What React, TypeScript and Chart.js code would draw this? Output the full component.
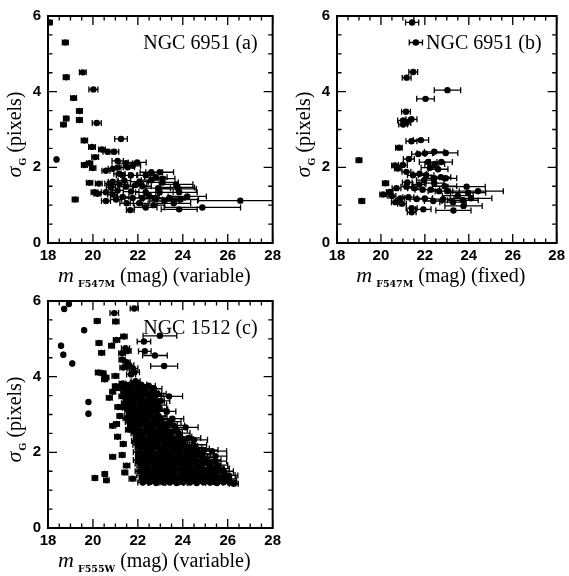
import React, { useEffect, useRef } from "react";
import { Chart, registerables } from "chart.js";
Chart.register(...registerables);

type Pt = [number, number, number]; // [magnitude, sigma_G, magnitude error]

const X_TICKS = [18, 20, 22, 24, 26, 28];
const Y_TICKS = [0, 2, 4, 6];
const X_MINOR = 0.5;
const Y_MINOR = 0.5;

const LABEL_A = "NGC 6951 (a)";
const LABEL_B = "NGC 6951 (b)";
const LABEL_C = "NGC 1512 (c)";

const pointsA: Pt[] = [
  [18.07, 5.83, 0.12], [18.77, 5.3, 0.13], [18.81, 4.38, 0.13], [19.55, 4.51, 0.15],
  [19.14, 3.83, 0.13], [19.4, 3.49, 0.13], [19.4, 3.25, 0.13], [18.81, 3.29, 0.12],
  [18.69, 3.13, 0.12], [20.02, 4.06, 0.2], [20.17, 3.17, 0.2], [18.38, 2.21, 0.03],
  [19.21, 1.15, 0.13], [19.62, 2.71, 0.14], [21.25, 2.75, 0.28], [19.96, 2.54, 0.15],
  [20.4, 2.47, 0.15], [20.65, 2.41, 0.2], [20.95, 2.41, 0.2], [20.1, 2.27, 0.15],
  [19.85, 2.11, 0.14], [19.62, 2.06, 0.13], [19.99, 1.98, 0.14], [21.1, 2.17, 0.25],
  [21.47, 2.11, 0.3], [21.97, 2.13, 0.4], [21.77, 2.04, 0.35], [21.55, 2.0, 0.3],
  [21.1, 2.0, 0.25], [20.88, 1.96, 0.2], [20.58, 1.91, 0.18], [22.97, 1.87, 0.62],
  [22.6, 1.87, 0.5], [21.18, 1.83, 0.25], [21.32, 1.79, 0.28], [21.69, 1.79, 0.3],
  [22.35, 1.79, 0.4], [22.8, 1.74, 0.5], [23.1, 1.7, 0.55], [22.6, 1.66, 0.45],
  [22.07, 1.62, 0.4], [20.88, 1.62, 0.2], [19.85, 1.59, 0.14], [20.26, 1.57, 0.15],
  [20.73, 1.57, 0.2], [21.18, 1.55, 0.25], [21.9, 1.53, 0.35], [23.7, 1.55, 0.75],
  [23.77, 1.47, 0.75], [21.47, 1.49, 0.3], [22.97, 1.34, 0.6], [23.84, 1.34, 0.8],
  [22.35, 1.34, 0.45], [21.7, 1.36, 0.35], [21.1, 1.39, 0.25], [20.58, 1.34, 0.2],
  [20.07, 1.34, 0.15], [20.2, 1.3, 0.15], [20.88, 1.28, 0.22], [21.32, 1.22, 0.28],
  [21.77, 1.19, 0.35], [22.2, 1.19, 0.45], [22.8, 1.17, 0.55], [23.4, 1.19, 0.7],
  [24.2, 1.23, 0.85], [26.56, 1.12, 1.9], [24.87, 0.94, 1.7], [23.84, 0.89, 0.8],
  [22.35, 0.94, 0.5], [21.66, 0.87, 0.17], [22.06, 1.05, 0.4], [21.03, 1.15, 0.25],
  [20.58, 1.11, 0.2], [23.18, 1.11, 0.65], [23.9, 1.15, 0.8], [23.6, 1.05, 0.75],
  [23.8, 1.43, 0.8], [22.5, 1.25, 0.45], [22.9, 1.45, 0.55], [21.5, 1.05, 0.3],
  [22.7, 1.0, 0.5], [20.8, 1.47, 0.2], [21.4, 1.65, 0.28], [22.2, 1.5, 0.4],
  [23.1, 1.6, 0.7],
];

const pointsB: Pt[] = [
  [21.42, 5.83, 0.3], [21.59, 5.3, 0.3], [21.47, 4.52, 0.2], [21.17, 4.37, 0.2],
  [23.03, 4.04, 0.6], [22.03, 3.81, 0.4], [21.14, 3.47, 0.2], [21.01, 3.24, 0.25],
  [21.39, 3.27, 0.25], [21.01, 3.13, 0.2], [21.16, 3.17, 0.2], [21.39, 2.69, 0.25],
  [21.82, 2.72, 0.35], [20.82, 2.52, 0.15], [21.7, 2.35, 0.3], [22.0, 2.37, 0.35],
  [22.43, 2.41, 0.45], [22.95, 2.38, 0.55], [21.27, 2.22, 0.25], [20.64, 2.05, 0.15],
  [21.0, 2.06, 0.2], [20.77, 1.97, 0.15], [22.15, 2.14, 0.4], [22.45, 2.09, 0.45],
  [22.75, 2.14, 0.5], [22.23, 1.99, 0.4], [22.6, 1.95, 0.45], [21.16, 1.88, 0.2],
  [21.46, 1.79, 0.25], [21.76, 1.83, 0.3], [22.06, 1.79, 0.35], [22.43, 1.71, 0.4],
  [22.73, 1.74, 0.45], [22.95, 1.71, 0.5], [22.43, 1.58, 0.45], [21.97, 1.66, 0.35],
  [20.21, 1.58, 0.14], [20.71, 1.45, 0.2], [21.16, 1.49, 0.25], [21.52, 1.45, 0.3],
  [21.9, 1.41, 0.35], [22.27, 1.41, 0.4], [22.65, 1.37, 0.5], [23.02, 1.37, 0.55],
  [23.9, 1.49, 0.85], [24.42, 1.37, 1.15], [23.97, 1.33, 0.8], [20.1, 1.28, 0.15],
  [20.5, 1.24, 0.18], [20.88, 1.18, 0.2], [21.25, 1.21, 0.25], [21.63, 1.16, 0.3],
  [22.0, 1.18, 0.35], [22.38, 1.11, 0.4], [22.83, 1.16, 0.5], [23.28, 1.08, 0.6],
  [23.73, 1.13, 0.7], [24.1, 1.18, 0.95], [23.76, 0.98, 0.85], [21.4, 0.92, 0.25],
  [21.93, 0.89, 0.35], [21.4, 0.81, 0.2], [23.3, 0.86, 0.8], [20.66, 1.08, 0.18],
  [20.96, 1.04, 0.2], [19.0, 2.19, 0.13], [19.13, 1.11, 0.13], [20.4, 1.35, 0.15],
  [21.2, 1.6, 0.22], [21.75, 1.55, 0.3], [22.9, 1.5, 0.55], [23.5, 1.25, 0.7],
];

const pointsC: Pt[] = [
  // bright, isolated objects
  [18.72, 5.79, 0.02], [18.93, 5.92, 0.02], [19.61, 5.23, 0.02], [18.58, 4.82, 0.02],
  [18.68, 4.58, 0.02], [19.08, 4.35, 0.02], [19.8, 3.33, 0.03], [19.8, 3.02, 0.03],
  [20.19, 5.47, 0.13], [20.27, 4.89, 0.13], [20.39, 4.63, 0.13], [20.24, 4.11, 0.13],
  [20.45, 4.09, 0.13], [20.52, 3.93, 0.13], [20.58, 3.98, 0.13], [20.73, 3.44, 0.13],
  [20.88, 3.6, 0.13], [20.95, 5.68, 0.19], [21.84, 5.8, 0.18], [21.02, 5.46, 0.14],
  [20.83, 4.82, 0.13], [21.05, 4.97, 0.14], [21.38, 5.06, 0.14], [22.98, 5.08, 0.75],
  [22.27, 4.93, 0.3], [22.31, 4.67, 0.28], [22.76, 4.56, 0.55], [23.17, 4.28, 0.6],
  [21.3, 4.62, 0.15], [21.45, 4.75, 0.18], [21.55, 4.68, 0.15], [21.3, 4.45, 0.14],
  [21.5, 4.38, 0.16], [21.35, 4.24, 0.15], [21.62, 4.3, 0.2], [21.78, 4.22, 0.22],
  [21.85, 4.12, 0.22], [21.7, 4.06, 0.2], [21.0, 4.02, 0.15], [21.9, 3.88, 0.2],
  [23.39, 3.48, 0.6], [23.29, 3.08, 0.4], [23.54, 2.89, 0.5], [24.13, 2.66, 0.55],
  [24.5, 2.33, 0.6], [25.3, 2.03, 0.65], [25.46, 1.9, 0.5], [26.05, 1.39, 0.4],
  [26.27, 1.17, 0.2],
  [20.09, 1.32, 0.12], [20.53, 1.43, 0.12], [20.6, 1.26, 0.12], [21.42, 1.47, 0.13],
  [21.76, 1.3, 0.15], [20.88, 1.88, 0.13], [21.3, 1.93, 0.13], [21.5, 1.65, 0.14],
  [21.35, 2.22, 0.13], [21.1, 2.41, 0.13], [20.88, 2.7, 0.13], [21.2, 2.96, 0.13],
  [21.6, 2.6, 0.15], [21.05, 2.75, 0.13], [21.3, 3.2, 0.13], [21.15, 3.7, 0.13],
  [21.0, 3.75, 0.13],
  // dense population
  [21.32, 3.82, 0.15], [21.58, 3.78, 0.18], [21.86, 3.84, 0.2], [22.15, 3.79, 0.25], [22.48, 3.76, 0.3],
  [21.45, 3.75, 0.16], [21.72, 3.77, 0.2], [22.0, 3.74, 0.22], [22.3, 3.73, 0.27],
  [21.22, 3.7, 0.15], [21.47, 3.68, 0.16], [21.75, 3.72, 0.2], [22.05, 3.66, 0.22], [22.38, 3.7, 0.28], [22.72, 3.68, 0.35],
  [21.4, 3.58, 0.16], [21.68, 3.6, 0.18], [21.97, 3.56, 0.22], [22.28, 3.62, 0.26], [22.6, 3.57, 0.32], [22.88, 3.55, 0.38],
  [21.5, 3.55, 0.16], [21.82, 3.53, 0.2], [22.12, 3.57, 0.24], [22.42, 3.54, 0.28], [22.72, 3.52, 0.34],
  [21.3, 3.48, 0.14], [21.62, 3.5, 0.18], [21.92, 3.46, 0.2], [22.2, 3.52, 0.25], [22.52, 3.47, 0.3], [22.8, 3.5, 0.36],
  [21.52, 3.4, 0.16], [21.8, 3.38, 0.2], [22.1, 3.42, 0.22], [22.42, 3.37, 0.28], [22.7, 3.4, 0.34], [23.02, 3.36, 0.4],
  [21.62, 3.35, 0.18], [21.92, 3.33, 0.2], [22.22, 3.36, 0.25], [22.52, 3.33, 0.3], [22.82, 3.35, 0.36],
  [21.42, 3.3, 0.15], [21.72, 3.27, 0.18], [22.02, 3.31, 0.22], [22.3, 3.26, 0.27], [22.62, 3.29, 0.32], [22.9, 3.25, 0.38],
  [21.12, 3.2, 0.14], [21.48, 3.18, 0.16], [21.8, 3.21, 0.2], [22.1, 3.17, 0.24], [22.44, 3.2, 0.3], [22.72, 3.16, 0.35],
  [21.65, 3.15, 0.18], [21.95, 3.13, 0.22], [22.3, 3.14, 0.26], [22.62, 3.12, 0.32], [22.95, 3.14, 0.38],
  [21.6, 3.1, 0.18], [21.9, 3.07, 0.2], [22.22, 3.11, 0.25], [22.5, 3.06, 0.3], [22.82, 3.1, 0.36],
  [21.68, 2.99, 0.18], [21.98, 3.02, 0.22], [22.3, 2.97, 0.26], [22.6, 3.01, 0.32], [22.92, 2.96, 0.38],
  [21.6, 2.95, 0.18], [21.9, 2.93, 0.2], [22.2, 2.96, 0.25], [22.52, 2.93, 0.3], [22.85, 2.94, 0.36],
  [21.5, 2.9, 0.16], [21.82, 2.88, 0.2], [22.12, 2.92, 0.24], [22.42, 2.87, 0.28], [22.72, 2.9, 0.34], [23.02, 2.86, 0.4],
  [21.62, 2.8, 0.18], [21.9, 2.78, 0.2], [22.2, 2.82, 0.24], [22.5, 2.77, 0.3], [22.8, 2.8, 0.35], [23.1, 2.76, 0.42], [23.42, 2.81, 0.5],
  [21.78, 2.75, 0.2], [22.08, 2.73, 0.22], [22.4, 2.76, 0.28], [22.7, 2.73, 0.33], [23.0, 2.75, 0.38], [23.3, 2.73, 0.45],
  [21.72, 2.7, 0.18], [22.02, 2.68, 0.22], [22.32, 2.72, 0.26], [22.62, 2.67, 0.32], [22.92, 2.7, 0.38], [23.22, 2.66, 0.44], [23.58, 2.71, 0.5],
  [21.82, 2.6, 0.2], [22.1, 2.58, 0.22], [22.4, 2.62, 0.28], [22.7, 2.57, 0.33], [23.0, 2.6, 0.38], [23.32, 2.56, 0.45], [23.7, 2.61, 0.5],
  [21.95, 2.55, 0.2], [22.25, 2.53, 0.25], [22.55, 2.56, 0.3], [22.85, 2.53, 0.35], [23.15, 2.55, 0.4], [23.5, 2.53, 0.48],
  [21.9, 2.5, 0.2], [22.2, 2.48, 0.24], [22.5, 2.52, 0.3], [22.8, 2.47, 0.34], [23.1, 2.5, 0.4], [23.42, 2.46, 0.46], [23.8, 2.51, 0.52],
  [22.02, 2.4, 0.22], [22.3, 2.38, 0.26], [22.6, 2.42, 0.3], [22.9, 2.37, 0.36], [23.2, 2.4, 0.42], [23.52, 2.36, 0.48], [23.88, 2.41, 0.52], [24.25, 2.38, 0.55],
  [22.1, 2.35, 0.22], [22.4, 2.33, 0.28], [22.7, 2.36, 0.32], [23.0, 2.33, 0.38], [23.3, 2.35, 0.42], [23.62, 2.33, 0.48], [23.95, 2.35, 0.52],
  [21.92, 2.3, 0.2], [22.22, 2.28, 0.24], [22.52, 2.32, 0.3], [22.82, 2.27, 0.34], [23.12, 2.3, 0.4], [23.42, 2.26, 0.46], [23.72, 2.31, 0.5], [24.02, 2.27, 0.52],
  [22.0, 2.2, 0.22], [22.3, 2.18, 0.26], [22.6, 2.22, 0.3], [22.9, 2.17, 0.36], [23.2, 2.2, 0.42], [23.5, 2.16, 0.46], [23.8, 2.21, 0.5], [24.12, 2.17, 0.54], [24.48, 2.2, 0.58],
  [22.15, 2.15, 0.22], [22.45, 2.13, 0.28], [22.75, 2.16, 0.32], [23.05, 2.13, 0.38], [23.35, 2.15, 0.42], [23.65, 2.13, 0.48], [23.98, 2.15, 0.5], [24.3, 2.13, 0.55],
  [22.1, 2.1, 0.22], [22.4, 2.08, 0.28], [22.7, 2.12, 0.32], [23.0, 2.07, 0.38], [23.3, 2.1, 0.42], [23.6, 2.06, 0.48], [23.9, 2.11, 0.5], [24.2, 2.07, 0.54], [24.58, 2.1, 0.6], [24.95, 2.06, 0.62],
  [22.02, 2.0, 0.22], [22.32, 1.98, 0.26], [22.62, 2.02, 0.3], [22.92, 1.97, 0.36], [23.22, 2.0, 0.42], [23.52, 1.96, 0.46], [23.82, 2.01, 0.5], [24.12, 1.97, 0.54], [24.42, 2.0, 0.58], [24.8, 1.96, 0.6],
  [22.2, 1.95, 0.24], [22.5, 1.93, 0.28], [22.8, 1.96, 0.34], [23.1, 1.93, 0.38], [23.4, 1.95, 0.44], [23.7, 1.93, 0.48], [24.0, 1.95, 0.52], [24.3, 1.93, 0.56], [24.62, 1.95, 0.6],
  [22.12, 1.9, 0.22], [22.42, 1.88, 0.28], [22.72, 1.92, 0.32], [23.02, 1.87, 0.38], [23.32, 1.9, 0.42], [23.62, 1.86, 0.48], [23.92, 1.91, 0.5], [24.22, 1.87, 0.54], [24.52, 1.9, 0.58], [24.9, 1.86, 0.6],
  [22.0, 1.8, 0.2], [22.3, 1.78, 0.26], [22.6, 1.82, 0.3], [22.9, 1.77, 0.36], [23.2, 1.8, 0.42], [23.5, 1.76, 0.46], [23.8, 1.81, 0.5], [24.1, 1.77, 0.54], [24.4, 1.8, 0.58], [24.7, 1.76, 0.6], [25.08, 1.8, 0.62], [25.45, 1.77, 0.5],
  [22.22, 1.75, 0.24], [22.52, 1.73, 0.28], [22.82, 1.76, 0.34], [23.12, 1.73, 0.38], [23.42, 1.75, 0.44], [23.72, 1.73, 0.48], [24.02, 1.75, 0.52], [24.32, 1.73, 0.56], [24.62, 1.75, 0.58], [24.95, 1.73, 0.6],
  [22.1, 1.7, 0.22], [22.4, 1.68, 0.28], [22.7, 1.72, 0.32], [23.0, 1.67, 0.38], [23.3, 1.7, 0.42], [23.6, 1.66, 0.48], [23.9, 1.71, 0.5], [24.2, 1.67, 0.54], [24.5, 1.7, 0.58], [24.8, 1.66, 0.6], [25.15, 1.7, 0.55], [25.55, 1.66, 0.45],
  [22.2, 1.6, 0.24], [22.5, 1.58, 0.28], [22.8, 1.62, 0.34], [23.1, 1.57, 0.38], [23.4, 1.6, 0.44], [23.7, 1.56, 0.48], [24.0, 1.61, 0.52], [24.3, 1.57, 0.56], [24.6, 1.6, 0.58], [24.9, 1.56, 0.6], [25.25, 1.6, 0.55], [25.62, 1.57, 0.45],
  [22.3, 1.55, 0.24], [22.6, 1.53, 0.3], [22.9, 1.56, 0.34], [23.2, 1.53, 0.4], [23.5, 1.55, 0.44], [23.8, 1.53, 0.48], [24.1, 1.55, 0.52], [24.4, 1.53, 0.56], [24.7, 1.55, 0.58], [25.0, 1.53, 0.58], [25.35, 1.55, 0.5],
  [22.1, 1.5, 0.22], [22.4, 1.48, 0.28], [22.7, 1.52, 0.32], [23.0, 1.47, 0.38], [23.3, 1.5, 0.42], [23.6, 1.46, 0.48], [23.9, 1.51, 0.5], [24.2, 1.47, 0.54], [24.5, 1.5, 0.58], [24.8, 1.46, 0.6], [25.1, 1.5, 0.55], [25.45, 1.46, 0.5], [25.8, 1.5, 0.45],
  [22.2, 1.4, 0.24], [22.5, 1.38, 0.28], [22.8, 1.42, 0.34], [23.1, 1.37, 0.38], [23.4, 1.4, 0.44], [23.7, 1.36, 0.48], [24.0, 1.41, 0.52], [24.3, 1.37, 0.56], [24.6, 1.4, 0.58], [24.9, 1.36, 0.6], [25.2, 1.4, 0.55], [25.55, 1.36, 0.5], [25.88, 1.4, 0.45],
  [22.35, 1.35, 0.24], [22.65, 1.33, 0.3], [22.95, 1.36, 0.34], [23.25, 1.33, 0.4], [23.55, 1.35, 0.44], [23.85, 1.33, 0.48], [24.15, 1.35, 0.52], [24.45, 1.33, 0.56], [24.75, 1.35, 0.58], [25.05, 1.33, 0.58], [25.4, 1.35, 0.52], [25.72, 1.33, 0.45],
  [22.3, 1.3, 0.24], [22.6, 1.28, 0.3], [22.9, 1.32, 0.34], [23.2, 1.27, 0.4], [23.5, 1.3, 0.44], [23.8, 1.26, 0.48], [24.1, 1.31, 0.52], [24.4, 1.27, 0.56], [24.7, 1.3, 0.58], [25.0, 1.26, 0.58], [25.3, 1.3, 0.55], [25.62, 1.26, 0.5], [25.95, 1.3, 0.42],
  [22.4, 1.25, 0.26], [22.7, 1.24, 0.3], [23.0, 1.26, 0.36], [23.3, 1.24, 0.4], [23.6, 1.25, 0.46], [23.9, 1.24, 0.5], [24.2, 1.26, 0.54], [24.5, 1.24, 0.56], [24.8, 1.25, 0.58], [25.1, 1.24, 0.56], [25.4, 1.25, 0.52], [25.7, 1.24, 0.48], [26.0, 1.25, 0.38],
  [22.22, 1.2, 0.22], [22.52, 1.21, 0.28], [22.82, 1.19, 0.34], [23.12, 1.21, 0.38], [23.42, 1.2, 0.44], [23.72, 1.19, 0.48], [24.02, 1.21, 0.52], [24.32, 1.2, 0.56], [24.62, 1.19, 0.58], [24.92, 1.21, 0.58], [25.22, 1.2, 0.55], [25.52, 1.19, 0.5], [25.82, 1.21, 0.45], [26.1, 1.2, 0.3],
];

interface PanelCfg {
  points: Pt[];
  label: string;
  xSub: string;
  xRest: string;
  left: number;
  top: number;
  w: number;
  h: number;
  yW: number;
  xH: number;
  padR: number;
  padT: number;
}

const PANELS: PanelCfg[] = [
  { points: pointsA, label: LABEL_A, xSub: "F547M", xRest: " (mag) (variable)", left: 0, top: 0, w: 285, h: 290, yW: 48, xH: 47, padR: 12, padT: 10 },
  { points: pointsB, label: LABEL_B, xSub: "F547M", xRest: " (mag) (fixed)", left: 285, top: 0, w: 284, h: 290, yW: 52, xH: 47, padR: 12, padT: 10 },
  { points: pointsC, label: LABEL_C, xSub: "F555W", xRest: " (mag) (variable)", left: 0, top: 285, w: 285, h: 291, yW: 48, xH: 48, padR: 12, padT: 10 },
];

const SERIF = "'Liberation Serif', 'DejaVu Serif', serif";

function makeDecor(cfg: PanelCfg) {
  return {
    id: "decor",
    beforeDatasetsDraw(chart: any) {
      const { ctx, chartArea: a, scales } = chart;
      const x = scales.x, y = scales.y;
      ctx.save();
      ctx.beginPath();
      ctx.rect(a.left, a.top, a.right - a.left, a.bottom - a.top);
      ctx.clip();
      ctx.strokeStyle = "#000";
      ctx.lineWidth = 1.3;
      ctx.beginPath();
      for (const [m, s, e] of cfg.points) {
        const py = y.getPixelForValue(s);
        const x0 = x.getPixelForValue(m - e);
        const x1 = x.getPixelForValue(m + e);
        ctx.moveTo(x0, py); ctx.lineTo(x1, py);
        ctx.moveTo(x0, py - 3); ctx.lineTo(x0, py + 3);
        ctx.moveTo(x1, py - 3); ctx.lineTo(x1, py + 3);
      }
      ctx.stroke();
      ctx.restore();
    },
    afterDraw(chart: any) {
      const { ctx, chartArea: a, scales } = chart;
      const x = scales.x, y = scales.y;
      ctx.save();
      ctx.strokeStyle = "#000";
      ctx.fillStyle = "#000";
      // inward ticks on all four sides
      ctx.lineWidth = 1.3;
      ctx.beginPath();
      for (let v = X_TICKS[0]; v <= X_TICKS[X_TICKS.length - 1] + 1e-9; v += X_MINOR) {
        const px = x.getPixelForValue(v);
        const len = X_TICKS.includes(v) ? 9 : 4.5;
        ctx.moveTo(px, a.bottom); ctx.lineTo(px, a.bottom - len);
        ctx.moveTo(px, a.top); ctx.lineTo(px, a.top + len);
      }
      for (let v = Y_TICKS[0]; v <= Y_TICKS[Y_TICKS.length - 1] + 1e-9; v += Y_MINOR) {
        const py = y.getPixelForValue(v);
        const len = Y_TICKS.includes(v) ? 9 : 4.5;
        ctx.moveTo(a.left, py); ctx.lineTo(a.left + len, py);
        ctx.moveTo(a.right, py); ctx.lineTo(a.right - len, py);
      }
      ctx.stroke();
      ctx.lineWidth = 2;
      ctx.strokeRect(a.left, a.top, a.right - a.left, a.bottom - a.top);

      // panel label
      ctx.font = `20px ${SERIF}`;
      ctx.textAlign = "right";
      ctx.textBaseline = "alphabetic";
      ctx.fillText(cfg.label, a.right - 15, a.top + 33);

      // x axis title: m_{sub} (mag) (...)
      ctx.textAlign = "left";
      const fM = `italic 22px ${SERIF}`;
      const fSub = `bold 9.5px 'DejaVu Serif', serif`;
      const fMain = `20px ${SERIF}`;
      ctx.font = fM; const wM = ctx.measureText("m").width;
      ctx.font = fSub; const wS = ctx.measureText(cfg.xSub).width;
      ctx.font = fMain; const wR = ctx.measureText(cfg.xRest).width;
      const gap = 4;
      const total = wM + gap + wS + wR;
      let cx = (a.left + a.right) / 2 - 6 - total / 2;
      const base = a.bottom + 39;
      ctx.font = fM; ctx.fillText("m", cx, base); cx += wM + gap;
      ctx.font = fSub; ctx.fillText(cfg.xSub, cx, base + 5); cx += wS;
      ctx.font = fMain; ctx.fillText(cfg.xRest, cx, base);

      // y axis title: sigma_G (pixels), rotated
      ctx.save();
      ctx.translate(a.left - 27, (a.top + a.bottom) / 2 + 5);
      ctx.rotate(-Math.PI / 2);
      const ySig = "σ", ySub = "G", yRest = " (pixels)";
      ctx.font = `italic 22px ${SERIF}`; const w1 = ctx.measureText(ySig).width;
      ctx.font = fSub; const w2 = ctx.measureText(ySub).width;
      ctx.font = fMain; const w3 = ctx.measureText(yRest).width;
      let ty = -(w1 + 1 + w2 + w3) / 2;
      ctx.font = `italic 22px ${SERIF}`; ctx.fillText(ySig, ty, 0); ty += w1 + 1;
      ctx.font = fSub; ctx.fillText(ySub, ty, 5); ty += w2;
      ctx.font = fMain; ctx.fillText(yRest, ty, 0);
      ctx.restore();

      ctx.restore();
    },
  };
}

const tickFont = { family: "'Liberation Sans', Arial, sans-serif", size: 15, weight: "bold" as const };

function Panel({ cfg }: { cfg: PanelCfg }) {
  const ref = useRef<HTMLCanvasElement>(null);
  useEffect(() => {
    const chart = new Chart(ref.current as HTMLCanvasElement, {
      type: "scatter",
      data: {
        datasets: [
          {
            data: cfg.points.map(([m, s]) => ({ x: m, y: s })),
            pointRadius: 3.2,
            pointHoverRadius: 3.2,
            pointBackgroundColor: "#000",
            pointBorderColor: "#000",
            pointBorderWidth: 0,
          },
        ],
      },
      options: {
        responsive: false,
        animation: false,
        events: [],
        layout: { padding: { left: 0, right: cfg.padR, top: cfg.padT, bottom: 0 } },
        plugins: { legend: { display: false }, tooltip: { enabled: false } },
        scales: {
          x: {
            type: "linear",
            min: X_TICKS[0],
            max: X_TICKS[X_TICKS.length - 1],
            afterBuildTicks: (s: any) => { s.ticks = X_TICKS.map((v) => ({ value: v })); },
            afterFit: (s: any) => { s.height = cfg.xH; },
            grid: { display: false, drawTicks: false },
            border: { display: false },
            ticks: { font: tickFont, color: "#000", padding: 4, autoSkip: false, maxRotation: 0 },
          },
          y: {
            type: "linear",
            min: Y_TICKS[0],
            max: Y_TICKS[Y_TICKS.length - 1],
            afterBuildTicks: (s: any) => { s.ticks = Y_TICKS.map((v) => ({ value: v })); },
            afterFit: (s: any) => { s.width = cfg.yW; },
            grid: { display: false, drawTicks: false },
            border: { display: false },
            ticks: { font: tickFont, color: "#000", padding: 7, autoSkip: false },
          },
        },
      } as any,
      plugins: [makeDecor(cfg)],
    });
    return () => chart.destroy();
  }, [cfg]);
  return (
    <canvas
      ref={ref}
      width={cfg.w}
      height={cfg.h}
      style={{ position: "absolute", left: cfg.left, top: cfg.top, width: cfg.w, height: cfg.h }}
    />
  );
}

export default function App() {
  return (
    <div style={{ position: "absolute", left: 0, top: 0, width: 569, height: 576, background: "#fff", overflow: "hidden" }}>
      {PANELS.map((p, i) => (
        <Panel key={i} cfg={p} />
      ))}
    </div>
  );
}
